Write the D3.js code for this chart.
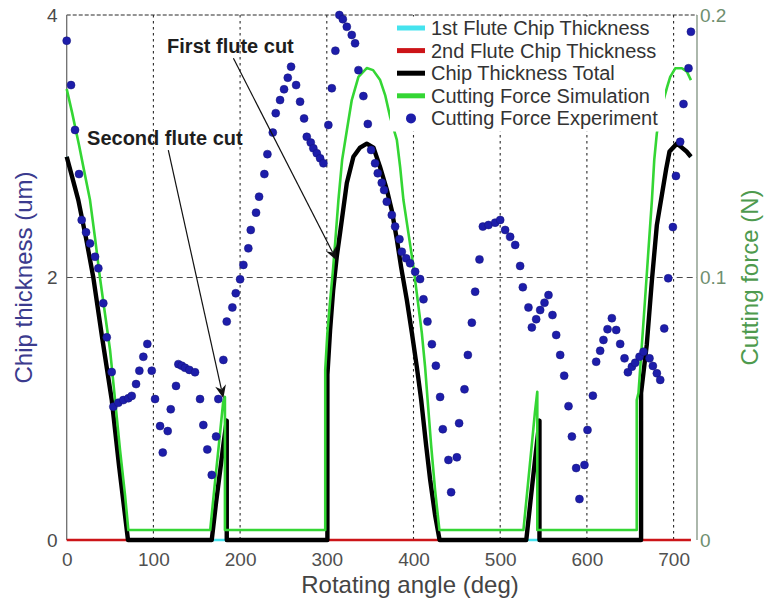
<!DOCTYPE html>
<html>
<head>
<meta charset="utf-8">
<script src="https://cdn.jsdelivr.net/npm/d3@7/dist/d3.min.js"></script>
<style>
  body { margin: 0; background: #fff; }
  svg { display: block; }
  text { font-family: "Liberation Sans", Arial, Helvetica, sans-serif; }
</style>
</head>
<body>
<svg id="chart" width="764" height="608"></svg>
<script>
// ---- Chip thickness, total of both flutes (um) ----
const totalAngle = [0, 6.1, 13.4, 22.3, 30.7, 40.7, 51.9, 60.3, 70.7,
  167.3, 172, 177, 181, 184.6, 184.6,
  300.7, 300.7, 303.8, 307.3, 311.5, 315.3, 323.1, 330.7, 338.4, 346.1, 353.8, 361.5, 369.2,
  375.0, 380.8, 385.7, 392.3, 398.1, 403.8, 408.8, 414.6, 419.2, 424.9, 430.1,
  530.1, 535, 540, 545.3, 545.3,
  662.5, 662.5, 669.1, 675.0, 680.7, 686.5, 691.5, 695.3, 703.8, 709.6, 715.0, 720.0];
const totalThick = [2.92, 2.77, 2.59, 2.30, 2.00, 1.55, 1.07, 0.57, 0,
  0, 0.27, 0.53, 0.74, 0.91, 0,
  0, 1.26, 1.60, 1.90, 2.16, 2.34, 2.72, 2.92, 2.99, 3.02, 2.99, 2.84, 2.67,
  2.51, 2.29, 2.08, 1.83, 1.58, 1.32, 1.07, 0.72, 0.46, 0.19, 0,
  0, 0.30, 0.60, 0.91, 0,
  0, 1.12, 1.49, 1.98, 2.40, 2.63, 2.83, 2.96, 3.02, 2.99, 2.96, 2.92];

// ---- 1st flute chip thickness (um) ----
const flute1Angle = [0, 6.1, 13.4, 22.3, 30.7, 40.7, 51.9, 60.3, 70.7,
  300.7, 300.7, 303.8, 307.3, 311.5, 315.3, 323.1, 330.7, 338.4, 346.1, 353.8, 361.5, 369.2,
  375.0, 380.8, 385.7, 392.3, 398.1, 403.8, 408.8, 414.6, 419.2, 424.9, 430.1,
  662.5, 662.5, 669.1, 675.0, 680.7, 686.5, 691.5, 695.3, 703.8, 709.6, 715.0, 720.0];
const flute1Thick = [2.92, 2.77, 2.59, 2.30, 2.00, 1.55, 1.07, 0.57, 0,
  0, 1.26, 1.60, 1.90, 2.16, 2.34, 2.72, 2.92, 2.99, 3.02, 2.99, 2.84, 2.67,
  2.51, 2.29, 2.08, 1.83, 1.58, 1.32, 1.07, 0.72, 0.46, 0.19, 0,
  0, 1.12, 1.49, 1.98, 2.40, 2.63, 2.83, 2.96, 3.02, 2.99, 2.96, 2.92];

// ---- 2nd flute chip thickness (um) ----
const flute2Angle = [0, 167.3, 172, 177, 181, 184.6, 184.6, 530.1, 535, 540, 545.3, 545.3, 720];
const flute2Thick = [0, 0, 0.27, 0.53, 0.74, 0.91, 0, 0, 0.30, 0.60, 0.91, 0, 0];

// ---- Simulated cutting force (N) ----
const simAngle = [0, 6.1, 14.2, 21.1, 26.9, 32.7, 38.4, 44.2, 50.0, 55.8, 61.5, 67.3, 71.1,
  165.5, 170.5, 175.5, 180.5, 182.5, 182.5,
  298.2, 298.2, 300.7, 303.8, 306.9, 309.6, 313.4, 317.7, 323.1, 328.8, 336.5, 346.1, 353.4,
  361.5, 367.3, 373.1, 380.8, 384.6, 388.4, 394.1, 400.0, 404.8, 409.6, 413.4, 416.3, 420.3,
  424.9, 429.9,
  526.8, 531.0, 536.0, 540.0, 542.8, 542.8,
  657.5, 657.5, 659.5, 663.4, 667.2, 671.0, 675.0, 677.7, 680.7, 684.5, 688.4, 692.6, 696.1,
  701.9, 709.6, 715.4, 720.0];
const simForce = [0.1718, 0.1630, 0.1505, 0.1390, 0.1295, 0.1150, 0.0998, 0.0861, 0.0724, 0.0533, 0.0343, 0.0171, 0.0038,
  0.0038, 0.0202, 0.0362, 0.0526, 0.0545, 0.0038,
  0.0038, 0.0648, 0.0790, 0.0910, 0.1020, 0.1130, 0.1295, 0.1448, 0.1560, 0.1676, 0.1764, 0.1798, 0.1790,
  0.1752, 0.1695, 0.1611, 0.1524, 0.1421, 0.1295, 0.1170, 0.1040, 0.0914, 0.0789, 0.0659, 0.0533, 0.0362,
  0.0190, 0.0038,
  0.0038, 0.0179, 0.0347, 0.0484, 0.0565, 0.0038,
  0.0038, 0.0533, 0.0560, 0.0743, 0.0922, 0.1105, 0.1295, 0.1448, 0.1550, 0.1620, 0.1676, 0.1726, 0.1764,
  0.1797, 0.1797, 0.1784, 0.1752];

// ---- Measured cutting force (N) ----
const expAngle = [0.0, 5.0, 9.6, 14.2, 17.3, 22.3, 26.9, 32.7, 36.5, 42.2, 46.2, 51.9, 53.8, 59.5, 65.3,
  71.1, 75.0, 80.0, 83.8, 88.4, 93.0, 98.1, 101.9, 107.7, 110.8, 116.5, 120.0, 126.1, 128.8, 132.7,
  136.5, 141.5, 148.0, 153.8, 157.6, 162.2, 167.3, 172.3, 174.9, 180.7, 184.6, 191.1, 195.0, 200.0,
  203.8, 209.5, 212.3, 218.4, 221.9, 228.0, 231.5, 237.7, 241.1, 246.1, 250.7, 255.0, 258.8, 264.6,
  269.2, 273.8, 276.9, 281.5, 284.5, 288.5, 292.3, 296.1, 301.8, 305.8, 309.9, 314.5, 318.5, 323.1,
  328.8, 332.6, 336.5, 342.2, 347.3, 351.1, 355.7, 358.8, 363.4, 366.1, 369.2, 375.0, 378.8, 383.8,
  386.5, 391.5, 396.1, 401.9, 407.6, 411.5, 416.1, 421.2, 425.8, 430.7, 433.8, 440.3, 443.4, 450.0,
  452.6, 458.8, 462.7, 467.3, 471.1, 476.1, 480.0, 486.5, 494.2, 500.0, 505.7, 511.5, 517.3, 523.0,
  526.1, 532.6, 536.5, 541.5, 546.1, 551.1, 555.7, 560.3, 564.6, 569.2, 573.8, 578.8, 582.7, 587.6,
  591.4, 597.2, 600.7, 606.9, 610.7, 615.3, 619.1, 623.8, 628.8, 633.8, 638.4, 643.4, 647.3, 651.9,
  655.7, 660.7, 665.3, 672.2, 676.1, 680.7, 684.6, 689.2, 693.8, 699.2, 702.7, 707.6, 711.4, 717.2, 720.0];
const expForce = [0.1902, 0.1733, 0.1562, 0.1394, 0.1219, 0.1172, 0.1130, 0.1079, 0.1035, 0.0902, 0.0772, 0.0640, 0.0508, 0.0523, 0.0533,
  0.0540, 0.0549, 0.0594, 0.0645, 0.0698, 0.0747, 0.0645, 0.0537, 0.0434, 0.0333, 0.0415, 0.0498, 0.0587, 0.0670, 0.0664,
  0.0656, 0.0648, 0.0639, 0.0537, 0.0438, 0.0345, 0.0248, 0.0394, 0.0537, 0.0686, 0.0832, 0.0886, 0.0940, 0.0993,
  0.1048, 0.1111, 0.1181, 0.1247, 0.1308, 0.1394, 0.1470, 0.1552, 0.1626, 0.1676, 0.1717, 0.1761, 0.1803, 0.1733,
  0.1670, 0.1606, 0.1536, 0.1514, 0.1492, 0.1473, 0.1454, 0.1435, 0.1581, 0.1721, 0.1864, 0.2000, 0.1984, 0.1955,
  0.1924, 0.1892, 0.1790, 0.1691, 0.1585, 0.1486, 0.1435, 0.1397, 0.1361, 0.1333, 0.1289, 0.1238, 0.1194, 0.1146,
  0.1098, 0.1073, 0.1054, 0.1022, 0.0994, 0.0917, 0.0832, 0.0746, 0.0664, 0.0545, 0.0422, 0.0305, 0.0182, 0.0315,
  0.0445, 0.0574, 0.0705, 0.0828, 0.0946, 0.1069, 0.1194, 0.1200, 0.1209, 0.1219, 0.1181, 0.1155, 0.1124, 0.1044,
  0.0963, 0.0886, 0.0810, 0.0841, 0.0876, 0.0904, 0.0933, 0.0857, 0.0781, 0.0705, 0.0626, 0.0510, 0.0394, 0.0274,
  0.0156, 0.0286, 0.0419, 0.0550, 0.0679, 0.0721, 0.0762, 0.0803, 0.0845, 0.0800, 0.0747, 0.0692, 0.0639, 0.0660,
  0.0675, 0.0698, 0.0717, 0.0692, 0.0663, 0.0635, 0.0610, 0.0806, 0.0997, 0.1192, 0.1387, 0.1517, 0.1661, 0.1797, 0.1936];

// ---- Ticks and labels ----
const xTicks = [0, 100, 200, 300, 400, 500, 600, 700];
const thickTicks = [0, 2, 4];
const forceTicks = [0, 0.1, 0.2];
const legendLabels = ["1st Flute Chip Thickness", "2nd Flute Chip Thickness",
  "Chip Thickness Total", "Cutting Force Simulation", "Cutting Force Experiment"];

// ---- Layout and styling ----
const plot = { left: 66.7, right: 697, top: 15, bottom: 540 };
const colors = {
  flute1: "#45e3ee", flute2: "#cc1418", total: "#000000",
  sim: "#34d634", exp: "#1d1daa"
};

const svg = d3.select("#chart");

const x = d3.scaleLinear().domain([0, 727]).range([plot.left, plot.right]);
const yThick = d3.scaleLinear().domain([0, 4]).range([plot.bottom, plot.top]);
const yForce = d3.scaleLinear().domain([0, 0.2]).range([plot.bottom, plot.top]);

// grid
const grid = svg.append("g");
grid.selectAll("line.v").data(xTicks.filter(d => d > 0)).join("line")
  .attr("x1", d => x(d)).attr("x2", d => x(d))
  .attr("y1", plot.top).attr("y2", plot.bottom)
  .attr("stroke", "#2a2a2a").attr("stroke-width", 1.1)
  .attr("stroke-dasharray", "2.5,3.5");
grid.append("line")
  .attr("x1", plot.left).attr("x2", plot.right)
  .attr("y1", yThick(2)).attr("y2", yThick(2))
  .attr("stroke", "#4a4a4a").attr("stroke-width", 1.1)
  .attr("stroke-dasharray", "6,4");
grid.append("line")
  .attr("x1", plot.left).attr("x2", plot.right)
  .attr("y1", yThick(4)).attr("y2", yThick(4))
  .attr("stroke", "#2a2a2a").attr("stroke-width", 1.2)
  .attr("stroke-dasharray", "4,2");

// axis frame lines
svg.append("line").attr("x1", plot.left).attr("x2", plot.left)
  .attr("y1", plot.top).attr("y2", plot.bottom)
  .attr("stroke", "#6e6e6e").attr("stroke-width", 1.3);
svg.append("line").attr("x1", plot.right).attr("x2", plot.right)
  .attr("y1", plot.top).attr("y2", plot.bottom)
  .attr("stroke", "#7f917f").attr("stroke-width", 1.3);

// axes (labels only)
const axisX = svg.append("g").attr("transform", `translate(0,${plot.bottom})`)
  .call(d3.axisBottom(x).tickValues(xTicks).tickSize(0).tickPadding(13).tickFormat(d3.format("d")));
const axisL = svg.append("g").attr("transform", `translate(${plot.left},0)`)
  .call(d3.axisLeft(yThick).tickValues(thickTicks).tickSize(0).tickPadding(9).tickFormat(d3.format("d")));
const axisR = svg.append("g").attr("transform", `translate(${plot.right},0)`)
  .call(d3.axisRight(yForce).tickValues(forceTicks).tickSize(0).tickPadding(3).tickFormat(d => d === 0 ? "0" : d3.format(".1f")(d)));
[axisX, axisL, axisR].forEach(g => g.select(".domain").remove());
axisX.selectAll("text").attr("font-size", 19).attr("fill", "#505050").attr("font-family", null);
axisL.selectAll("text").attr("font-size", 19).attr("fill", "#4a4a4a").attr("font-family", null);
axisR.selectAll("text").attr("font-size", 19).attr("fill", "#6f8f6f").attr("font-family", null);

// axis titles
svg.append("text").attr("x", 410).attr("y", 593).attr("text-anchor", "middle")
  .attr("font-size", 24).attr("fill", "#444").text("Rotating angle (deg)");
svg.append("text").attr("transform", `translate(32,${yThick(2)}) rotate(-90)`)
  .attr("text-anchor", "middle").attr("font-size", 24).attr("fill", "#3b3b8e")
  .text("Chip thickness (um)");
svg.append("text").attr("transform", `translate(758,${yThick(2)}) rotate(-90)`)
  .attr("text-anchor", "middle").attr("font-size", 24).attr("fill", "#4e9a4e")
  .text("Cutting force (N)");

// series: per-flute thickness first, the total drawn over them, force on top
const series = svg.append("g").attr("class", "series");
function drawLine(angles, values, yScale, color, width) {
  const pts = angles.map((a, i) => [a, values[i]]);
  series.append("path").datum(pts)
    .attr("fill", "none").attr("stroke", color).attr("stroke-width", width)
    .attr("stroke-linejoin", "round").attr("stroke-linecap", "butt")
    .attr("d", d3.line().x(d => x(d[0])).y(d => yScale(d[1])));
}
drawLine(flute1Angle, flute1Thick, yThick, colors.flute1, 2.6);
drawLine(flute2Angle, flute2Thick, yThick, colors.flute2, 2.6);
drawLine(totalAngle, totalThick, yThick, colors.total, 4.4);
drawLine(simAngle, simForce, yForce, colors.sim, 2.6);

series.append("g").selectAll("circle")
  .data(expAngle.map((a, i) => [a, expForce[i]]))
  .join("circle")
  .attr("cx", d => x(d[0])).attr("cy", d => yForce(d[1]))
  .attr("r", 4).attr("fill", colors.exp)
  .attr("stroke", "#15157a").attr("stroke-width", 0.5);

// legend
const legend = svg.append("g");
legend.append("rect").attr("x", 390).attr("y", 16.5).attr("width", 275).attr("height", 115)
  .attr("fill", "#fff");
const legendStyles = [
  { type: "line", color: colors.flute1 },
  { type: "line", color: colors.flute2 },
  { type: "line", color: colors.total },
  { type: "line", color: colors.sim },
  { type: "dot", color: colors.exp }
];
legendLabels.forEach((label, i) => {
  const cy = 28 + i * 22.6;
  const s = legendStyles[i];
  if (s.type === "line") {
    legend.append("line").attr("x1", 397).attr("x2", 425).attr("y1", cy).attr("y2", cy)
      .attr("stroke", s.color).attr("stroke-width", 5);
  } else {
    legend.append("circle").attr("cx", 411).attr("cy", cy).attr("r", 5).attr("fill", s.color);
  }
  legend.append("text").attr("x", 431).attr("y", cy + 7).attr("font-size", 20)
    .attr("fill", "#333").text(label);
});

// annotations with arrows
const notes = [
  { label: "First flute cut", tx: 115.8, ty: 3.71, fx: 192.3, fy: 3.67, ax: 311.5, ay: 2.13 },
  { label: "Second flute cut", tx: 23.5, ty: 3.01, fx: 117.2, fy: 2.97, ax: 180.7, ay: 1.08 }
];
notes.forEach(n => {
  svg.append("text").attr("x", x(n.tx)).attr("y", yThick(n.ty))
    .attr("font-size", 20).attr("font-weight", "bold").attr("fill", "#1e1e1e").text(n.label);
  const x1 = x(n.fx), y1 = yThick(n.fy), x2 = x(n.ax), y2 = yThick(n.ay);
  const ang = Math.atan2(y2 - y1, x2 - x1);
  const len = 13, half = 5.5, back = 9;
  svg.append("line").attr("x1", x1).attr("y1", y1)
    .attr("x2", x2 - Math.cos(ang) * back).attr("y2", y2 - Math.sin(ang) * back)
    .attr("stroke", "#111").attr("stroke-width", 1.2);
  const bx = x2 - Math.cos(ang) * len, by = y2 - Math.sin(ang) * len;
  const nx = -Math.sin(ang), ny = Math.cos(ang);
  const mx = x2 - Math.cos(ang) * back, my = y2 - Math.sin(ang) * back;
  svg.append("path")
    .attr("d", `M${x2},${y2} L${bx + nx * half},${by + ny * half} L${mx},${my} L${bx - nx * half},${by - ny * half} Z`)
    .attr("fill", "#111");
});
</script>
</body>
</html>
